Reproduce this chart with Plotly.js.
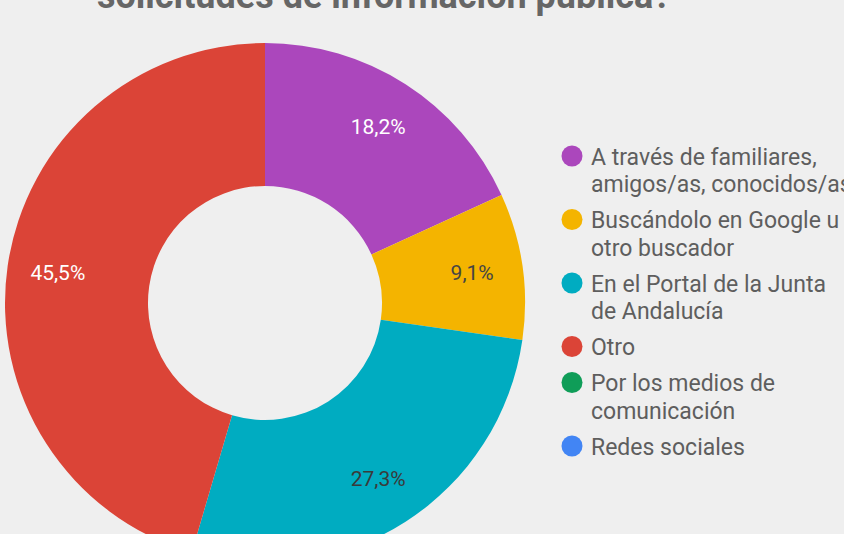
<!DOCTYPE html>
<html>
<head>
<meta charset="utf-8">
<script src="https://cdn.plot.ly/plotly-3.0.1.min.js"></script>
<style>
  html, body { margin: 0; padding: 0; background: #efefef; overflow: hidden; }
  #chart { width: 844px; height: 600px; }
</style>
</head>
<body>
<div id="chart"></div>
<script>
// ---- data ----
const titleText = "solicitudes de información pública?";
const categories = [
  "A través de familiares, amigos/as, conocidos/as",
  "Buscándolo en Google u otro buscador",
  "En el Portal de la Junta de Andalucía",
  "Otro",
  "Por los medios de comunicación",
  "Redes sociales"
];
const legendLines = [
  ["A través de familiares,", "amigos/as, conocidos/as"],
  ["Buscándolo en Google u", "otro buscador"],
  ["En el Portal de la Junta", "de Andalucía"],
  ["Otro"],
  ["Por los medios de", "comunicación"],
  ["Redes sociales"]
];
const values = [2, 1, 3, 5, 0, 0];
const colors = ["#ab47bc", "#f4b400", "#00acc1", "#db4437", "#0f9d58", "#4285f4"];
const labelColors = ["#ffffff", "#454545", "#3a3a3a", "#ffffff", "#ffffff", "#ffffff"];

// ---- layout helpers ----
const W = 844, H = 600;
const fx = px => px / W;
const fy = py => 1 - py / H;

const annotations = [];
const shapes = [];

annotations.push({
  text: "<b>" + titleText + "</b>",
  xref: "paper", yref: "paper",
  x: fx(384), y: fy(19),
  xanchor: "center", yanchor: "bottom",
  showarrow: false,
  font: { family: "Roboto", size: 36, color: "#666666" }
});

let py = 156;
const lineH = 27.5, gap = 8.5;
legendLines.forEach((lines, i) => {
  shapes.push({
    type: "circle", xref: "paper", yref: "paper",
    xsizemode: "pixel", ysizemode: "pixel",
    xanchor: fx(572), yanchor: fy(py),
    x0: -10.5, x1: 10.5, y0: -10.5, y1: 10.5,
    fillcolor: colors[i], line: { width: 0 }
  });
  lines.forEach((ln, j) => {
    annotations.push({
      text: ln, xref: "paper", yref: "paper",
      x: fx(589), y: fy(py + j * lineH + 1),
      xanchor: "left", yanchor: "middle",
      showarrow: false,
      font: { family: "Roboto", size: 23, color: "#5e5e5e" }
    });
  });
  py += lines.length * lineH + gap;
});

const pieDomain = { x: [fx(5), fx(525)], y: [fy(563), fy(43)] };

// coloured ring
const ring = {
  type: "pie",
  labels: categories,
  values: values,
  marker: { colors: colors, line: { width: 0 } },
  hole: 0.45,
  sort: false,
  direction: "clockwise",
  rotation: 0,
  textinfo: "none",
  domain: pieDomain,
  showlegend: false,
  hoverinfo: "none"
};

// percentage labels, same slices, placed further out
const labelsRing = {
  type: "pie",
  labels: categories,
  values: values,
  marker: { colors: colors.map(() => "rgba(0,0,0,0)"), line: { width: 0 } },
  hole: 0.61,
  sort: false,
  direction: "clockwise",
  rotation: 0,
  textposition: "inside",
  insidetextorientation: "horizontal",
  texttemplate: "%{percent:.1%}",
  textfont: { family: "Roboto", size: 21, color: labelColors },
  domain: pieDomain,
  showlegend: false,
  hoverinfo: "none"
};

const layout = {
  width: W, height: H,
  margin: { l: 0, r: 0, t: 0, b: 0 },
  paper_bgcolor: "#efefef",
  plot_bgcolor: "#efefef",
  separators: ",.",
  showlegend: false,
  annotations: annotations,
  shapes: shapes
};

Plotly.newPlot("chart", [ring, labelsRing], layout, { staticPlot: true, displayModeBar: false });
</script>
</body>
</html>
